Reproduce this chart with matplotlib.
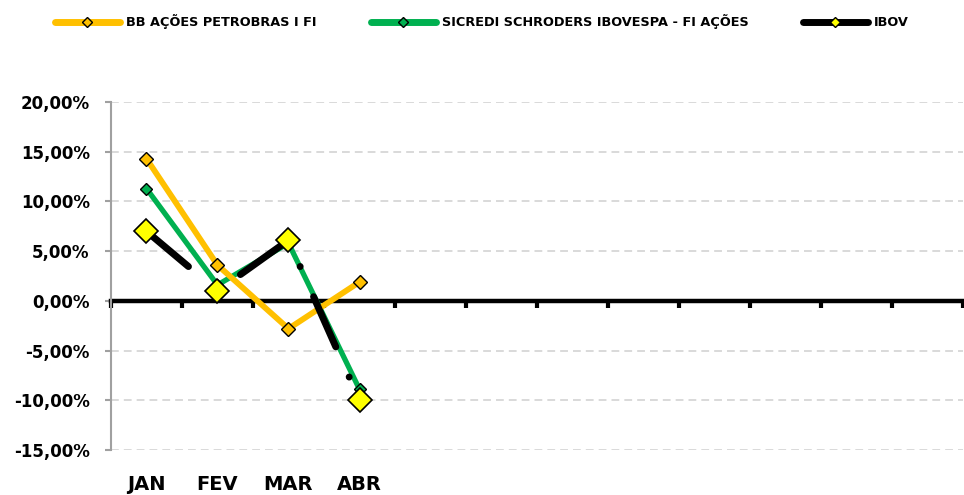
import numpy as np
import matplotlib
matplotlib.use("Agg")
import matplotlib.pyplot as plt
from matplotlib.ticker import FuncFormatter, FixedLocator
from matplotlib.lines import Line2D

plt.rcParams['font.family'] = ['DejaVu Sans']
plt.rcParams['font.weight'] = 'bold'

#%% data
months = ["JAN", "FEV", "MAR", "ABR", "", "", "", "", "", "", "", ""]
bb_petro = [14.3, 3.6, -2.8, 1.9]
sicredi = [11.3, 1.6, 5.8, -8.9]
ibov = [7.0, 1.0, 6.1, -10.0]
series_names = ["BB AÇÕES PETROBRAS I FI",
                "SICREDI SCHRODERS IBOVESPA - FI AÇÕES",
                "IBOV"]

orange = "#FFC000"
green = "#00B050"
yellow = "#FFFF00"

fig = plt.figure(figsize=(9.64, 4.95), dpi=100)
ax = fig.add_axes([0.1151, 0.0909, 0.884, 0.703])

x = np.arange(len(bb_petro))

ax.plot(x, sicredi, color=green, lw=3.8, zorder=3,
        marker="D", ms=6.5, mfc=green, mec="black", mew=1.0)
ax.plot(x, bb_petro, color=orange, lw=4.2, zorder=4,
        marker="D", ms=6.8, mfc=orange, mec="black", mew=1.0)
ax.plot(x, ibov, color="black", lw=5.0, zorder=5,
        dashes=(7.9, 4.75, 0.01, 4.75), dash_capstyle="round",
        marker="D", ms=11.8, mfc=yellow, mec="black", mew=1.2)

ax.set_xlim(-0.5, len(months) - 0.5)
ax.set_ylim(-15, 20)
ax.set_yticks(np.arange(-15, 21, 5))
ax.yaxis.set_major_formatter(FuncFormatter(lambda v, p: ("%.2f%%" % v).replace(".", ",")))
ax.grid(axis="y", color="#d9d9d9", lw=1.4, dashes=(4, 2.6), zorder=0)
ax.set_axisbelow(True)

# zero line with category boundary ticks
for s in ["top", "right"]:
    ax.spines[s].set_visible(False)
ax.spines["left"].set_color("#a0a0a0")
ax.spines["left"].set_linewidth(1.5)
ax.spines["bottom"].set_position(("data", 0))
ax.spines["bottom"].set_color("black")
ax.spines["bottom"].set_linewidth(3.2)
ax.spines["bottom"].set_zorder(2)
ax.xaxis.set_major_locator(FixedLocator(np.arange(-0.5, len(months), 1.0)))
ax.tick_params(axis="x", which="major", direction="out", length=5, width=3,
               color="black", labelbottom=False)
ax.tick_params(axis="y", direction="out", length=4.3, width=1.5, color="#a0a0a0",
               labelsize=12, pad=11)
for t in ax.get_yticklabels():
    t.set_fontweight("bold")

sec = ax.secondary_xaxis("bottom")
sec.set_xticks(np.arange(len(months)), months)
sec.spines["bottom"].set_visible(False)
sec.tick_params(length=0, labelsize=14, pad=18)
for t in sec.get_xticklabels():
    t.set_fontweight("bold")

handles = [
    Line2D([], [], color=orange, lw=5, solid_capstyle="round",
           marker="D", ms=5, mfc=orange, mec="black"),
    Line2D([], [], color=green, lw=5, solid_capstyle="round",
           marker="D", ms=5, mfc=green, mec="black"),
    Line2D([], [], color="black", lw=5, solid_capstyle="round",
           marker="D", ms=5, mfc=yellow, mec="black"),
]
fig.legend(handles, series_names, loc="center", bbox_to_anchor=(0.5, 0.956),
           ncol=3, frameon=False, handlelength=5.0, handletextpad=0.5,
           columnspacing=4.2, prop={"weight": "bold", "size": 9.3})

fig.savefig("out.png", dpi=100)
